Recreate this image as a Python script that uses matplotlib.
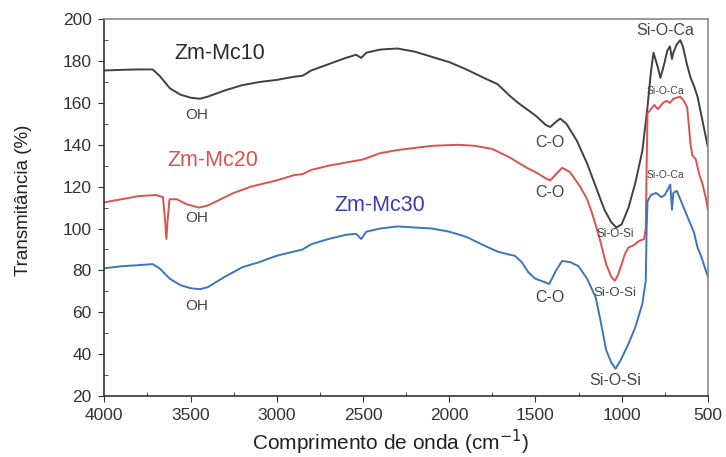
import matplotlib
matplotlib.use("Agg")
import matplotlib.pyplot as plt
from matplotlib.ticker import MultipleLocator

plt.rcParams["font.family"] = ["Liberation Sans", "DejaVu Sans"]

# Zm-Mc10 (gray)
wn_mc10 = [4000, 3900, 3800, 3720, 3680, 3620, 3560, 3500, 3445, 3400, 3300, 3200,
           3100, 3000, 2900, 2850, 2800, 2700, 2600, 2540, 2510, 2480, 2400, 2300,
           2200, 2100, 2000, 1900, 1800, 1720, 1650, 1600, 1550, 1500, 1440, 1414,
           1380, 1356, 1320, 1260, 1200, 1150, 1100, 1060, 1030, 1000, 960, 920,
           880, 850, 830, 815, 790, 775, 755, 735, 720, 708, 700, 680, 660, 645,
           620, 600, 580, 560, 540, 520, 500]
t_mc10 = [175.5, 175.8, 176, 176, 173, 167, 164, 162.5, 162, 163, 166, 168.5,
          170, 171, 172.5, 173, 175.5, 178.5, 181.5, 183, 181.5, 184, 185.5, 186,
          184.5, 182, 179.5, 176, 172, 169, 163.5, 160, 157, 154, 149.5, 148.5,
          151, 152.5, 150, 142, 131, 120, 109, 103, 100.5, 102, 110, 122,
          137, 158, 175, 184, 177, 172, 178, 185, 187, 181, 184, 188, 190, 187,
          178, 172, 168, 163, 155, 147, 139]

# Zm-Mc20 (red)
wn_mc20 = [4000, 3900, 3800, 3700, 3660, 3648, 3640, 3633, 3622, 3580, 3520, 3450,
           3400, 3300, 3250, 3150, 3000, 2900, 2850, 2800, 2700, 2600, 2500, 2400,
           2300, 2200, 2100, 1950, 1850, 1750, 1650, 1600, 1550, 1500, 1440, 1414,
           1380, 1345, 1300, 1240, 1200, 1170, 1130, 1090, 1060, 1040, 1020, 1000,
           980, 960, 930, 900, 870, 860, 855, 850, 830, 810, 790, 760, 740, 720,
           700, 680, 660, 640, 620, 600, 590, 570, 550, 530, 510, 500]
t_mc20 = [112.5, 114, 115.5, 116, 115, 104, 95, 104, 114, 114, 111.5, 110,
          111, 115, 117, 120, 123, 125.5, 126, 128, 130, 131.5, 133, 136,
          137.5, 138.5, 139.5, 140, 139.5, 138, 134, 131.5, 129, 127, 124, 123,
          126, 129, 127, 120, 114, 107, 96, 83, 77, 75, 78, 83,
          88, 91, 92, 94, 95, 100, 130, 155, 157, 159, 157, 160, 161, 160,
          162, 162.5, 163, 161, 158, 140, 135, 133, 126, 121, 114, 109]

# Zm-Mc30 (blue)
wn_mc30 = [4000, 3900, 3800, 3720, 3680, 3620, 3560, 3500, 3445, 3400, 3300, 3200,
           3100, 3000, 2900, 2850, 2800, 2700, 2600, 2540, 2510, 2480, 2400, 2300,
           2200, 2100, 2000, 1900, 1800, 1720, 1650, 1620, 1580, 1540, 1500, 1450,
           1420, 1380, 1345, 1300, 1250, 1200, 1150, 1120, 1090, 1060, 1035, 1000,
           960, 920, 880, 860, 855, 850, 830, 800, 770, 750, 730, 718, 708, 700,
           680, 660, 640, 620, 600, 580, 560, 540, 520, 500]
t_mc30 = [81, 82, 82.5, 83, 81, 76, 73, 71.5, 71, 72, 77, 81.5,
          84, 87, 89, 90, 92.5, 95, 97, 97.5, 95, 98.5, 100, 101,
          100.5, 100, 98.5, 96, 92, 89, 87.5, 87, 84, 79, 76, 74.5,
          73.5, 80, 84.5, 84, 82, 76, 67, 55, 42, 36, 33, 38,
          45, 53, 64, 75, 100, 113, 116, 117, 115, 116, 119, 121, 109, 117,
          118, 114, 110, 106, 102, 98, 91, 87, 82, 77]

# band labels: (text, wavenumber, transmittance, size)
band_labels = [
    ("OH", 3462, 154, 11), ("OH", 3462, 105, 11), ("OH", 3462, 63, 11),
    ("C-O", 1415, 141, 11.5), ("C-O", 1415, 117, 11.5), ("C-O", 1415, 67, 11.5),
    ("Si-O-Si", 1038, 97.5, 8.5), ("Si-O-Si", 1038, 69, 9.5), ("Si-O-Si", 1038, 27.5, 11.5),
    ("Si-O-Ca", 747, 194.5, 11.5), ("Si-O-Ca", 747, 165.5, 7.5), ("Si-O-Ca", 747, 125.5, 7.5),
]

fig = plt.figure(figsize=(7.26, 4.57), dpi=100)
ax = fig.add_axes([0.1437, 0.1335, 0.8313, 0.8245])

ax.plot(wn_mc10, t_mc10, color="#404040", lw=1.4)
ax.plot(wn_mc20, t_mc20, color="#d9534f", lw=1.4)
ax.plot(wn_mc30, t_mc30, color="#3f74bd", lw=1.4)

ax.text(3329, 183.8, "Zm-Mc10", color="#2a2a2a", fontsize=15.5, ha="center", va="center")
ax.text(3370, 132.6, "Zm-Mc20", color="#d9534f", fontsize=15.5, ha="center", va="center")
ax.text(2400, 111, "Zm-Mc30", color="#3c3cb0", fontsize=15.5, ha="center", va="center")

for txt, x, y, fs in band_labels:
    ax.text(x, y, txt, color="#444444", fontsize=fs, ha="center", va="center")

ax.set_xlim(4000, 500)
ax.set_ylim(20, 200)
ax.xaxis.set_major_locator(MultipleLocator(500))
ax.xaxis.set_minor_locator(MultipleLocator(250))
ax.yaxis.set_major_locator(MultipleLocator(20))
ax.yaxis.set_minor_locator(MultipleLocator(10))
ax.tick_params(which="major", direction="out", length=4, labelsize=12.5,
               colors="#333333", top=False, right=False, pad=5)
ax.tick_params(which="minor", direction="in", length=3, colors="#333333",
               top=False, right=False)

for side in ["left", "bottom"]:
    ax.spines[side].set_color("#333333")
    ax.spines[side].set_linewidth(1.2)
for side in ["top", "right"]:
    ax.spines[side].set_color("#888888")
    ax.spines[side].set_linewidth(1.2)

ax.set_xlabel("Comprimento de onda (cm$^{-1}$)", fontsize=15, color="#222222", labelpad=3)
ax.set_ylabel("Transmitância (%)", fontsize=13.5, color="#222222", labelpad=22)
ax.xaxis.label.set_x(0.4735)
ax.yaxis.label.set_y(0.52)

fig.savefig("out.png", dpi=100)
